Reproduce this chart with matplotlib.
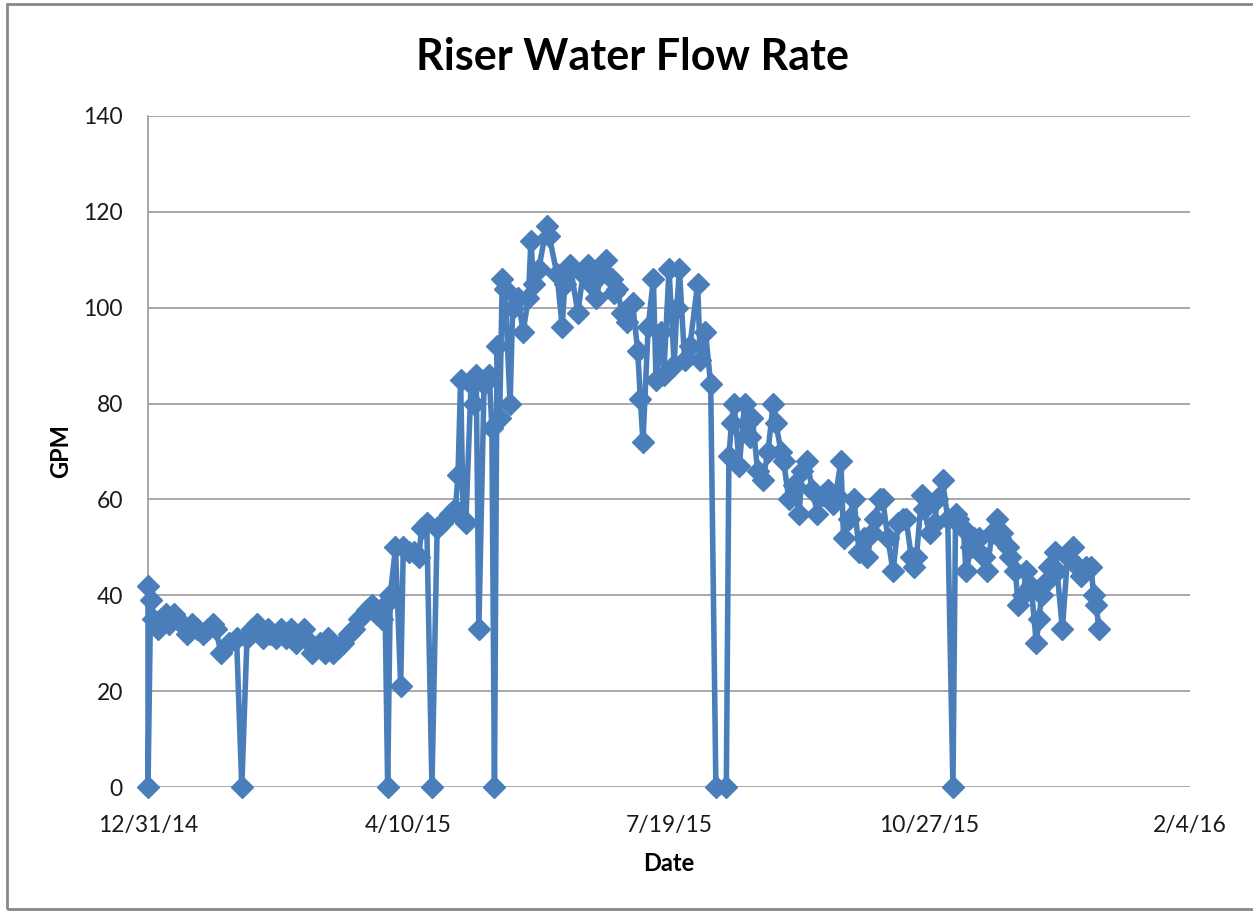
import datetime as dt
import matplotlib
matplotlib.use("Agg")
import matplotlib.pyplot as plt
import matplotlib.dates as mdates
from matplotlib.patches import Rectangle
from matplotlib.ticker import FuncFormatter

# days after 12/31/14 and flow readings (GPM)
start = dt.date(2014, 12, 31)
days = [0, 0, 1, 2, 4, 5, 7, 8, 10, 11, 13, 15, 17, 19, 21, 23, 25, 26, 28, 31,
        34, 36, 38, 40, 42, 44, 46, 47, 49, 51, 53, 55, 57, 58, 60, 62, 63, 66, 68, 69,
        71, 73, 75, 77, 79, 81, 84, 86, 88, 90, 91, 92, 93, 95, 97, 98, 100, 102, 104, 105,
        107, 109, 111, 113, 116, 118, 119, 120, 121, 122, 124, 125, 126, 127, 129, 131, 132, 133, 134, 135,
        136, 137, 139, 140, 142, 144, 146, 147, 148, 150, 153, 154, 157, 159, 160, 162, 165, 167, 169, 170,
        172, 174, 176, 178, 179, 180, 182, 184, 186, 188, 189, 190, 192, 194, 195, 197, 198, 200, 202, 203,
        204, 206, 208, 211, 212, 214, 216, 218, 222, 223, 224, 225, 227, 229, 230, 231, 232, 234, 236, 238,
        240, 241, 243, 244, 246, 248, 250, 251, 253, 255, 257, 259, 261, 263, 264, 266, 267, 269, 271, 273,
        275, 276, 278, 279, 281, 282, 284, 286, 288, 290, 291, 293, 294, 295, 297, 298, 300, 302, 303, 305,
        307, 309, 310, 311, 313, 314, 316, 317, 319, 321, 322, 324, 326, 327, 328, 330, 331, 333, 334, 336,
        337, 339, 341, 342, 343, 345, 346, 348, 349, 351, 353, 355, 357, 358, 360, 362, 363, 364, 365]
gpm = [42, 0, 39, 35, 33, 35, 36, 34, 36, 35, 34, 32, 34, 33, 32, 33, 34, 33, 28, 30,
       31, 0, 31, 33, 34, 31, 33, 32, 31, 33, 31, 33, 30, 31, 33, 30, 28, 30, 28, 31,
       28, 29, 30, 32, 33, 35, 37, 38, 36, 35, 38, 0, 40, 50, 21, 50, 49, 49, 48, 54,
       55, 0, 54, 55, 57, 58, 65, 85, 56, 55, 84, 80, 86, 33, 84, 86, 75, 0, 92, 77,
       106, 104, 80, 100, 102, 95, 102, 114, 105, 108, 117, 115, 107, 96, 105, 109, 99, 107, 109, 105,
       102, 107, 110, 106, 103, 104, 99, 97, 101, 91, 81, 72, 96, 106, 85, 95, 86, 108, 88, 100,
       108, 89, 92, 105, 89, 95, 84, 0, 0, 69, 76, 80, 67, 80, 76, 73, 77, 66, 64, 70,
       80, 76, 70, 68, 60, 63, 57, 66, 68, 62, 57, 61, 62, 59, 61, 68, 52, 56, 60, 49,
       52, 48, 53, 56, 60, 60, 52, 45, 55, 56, 56, 48, 46, 48, 61, 58, 53, 55, 60, 64,
       56, 0, 57, 56, 54, 45, 50, 52, 52, 48, 45, 53, 56, 52, 53, 50, 48, 45, 38, 40,
       45, 42, 30, 35, 40, 43, 46, 49, 45, 33, 48, 50, 46, 44, 46, 46, 40, 38, 33]

dates = [start + dt.timedelta(days=d) for d in days]

plt.rcParams['font.family'] = ['Lato', 'DejaVu Sans']

fig = plt.figure(figsize=(12.53, 9.11), dpi=100)
ax = fig.add_axes([148 / 1253, 1 - 787 / 911, (1190 - 148) / 1253, (787 - 116) / 911])

blue = '#4A7EBB'
ax.plot(dates, gpm, color=blue, lw=4, marker='D', ms=11.5,
        markerfacecolor=blue, markeredgecolor=blue, solid_joinstyle='round', zorder=3, clip_on=False)

x0 = mdates.date2num(start)
ax.set_xlim(x0, x0 + 400)
ax.set_xticks([x0 + 100 * i for i in range(5)])
ax.xaxis.set_major_formatter(FuncFormatter(
    lambda v, p: (lambda d: f'{d.month}/{d.day}/{d.strftime("%y")}')(mdates.num2date(v))))
ax.set_ylim(0, 140)
ax.set_yticks(range(0, 141, 20))

ax.grid(axis='y', color='#9A9A9A', lw=1.2)
ax.set_axisbelow(True)
for s in ['top', 'right', 'bottom']:
    ax.spines[s].set_visible(False)
ax.spines['left'].set_color('#9A9A9A')
ax.spines['left'].set_linewidth(1.2)
ax.tick_params(axis='both', length=0, labelsize=16.5, colors='#1a1a1a')
ax.tick_params(axis='y', pad=18)
ax.tick_params(axis='x', pad=20)

ax.set_xlabel('Date', fontsize=17, fontweight='bold', labelpad=12)
ax.set_ylabel('GPM', fontsize=17, fontweight='bold', labelpad=8)
fig.text(0.505, 1 - 57 / 911, 'Riser Water Flow Rate', fontsize=31, fontweight='bold',
         ha='center', va='center')

fig.patches.append(Rectangle((7 / 1253, 2 / 911), 1.2, 1 - 6 / 911, transform=fig.transFigure,
                             fill=False, edgecolor='#888888', lw=2))

fig.savefig('out.png', dpi=100)
